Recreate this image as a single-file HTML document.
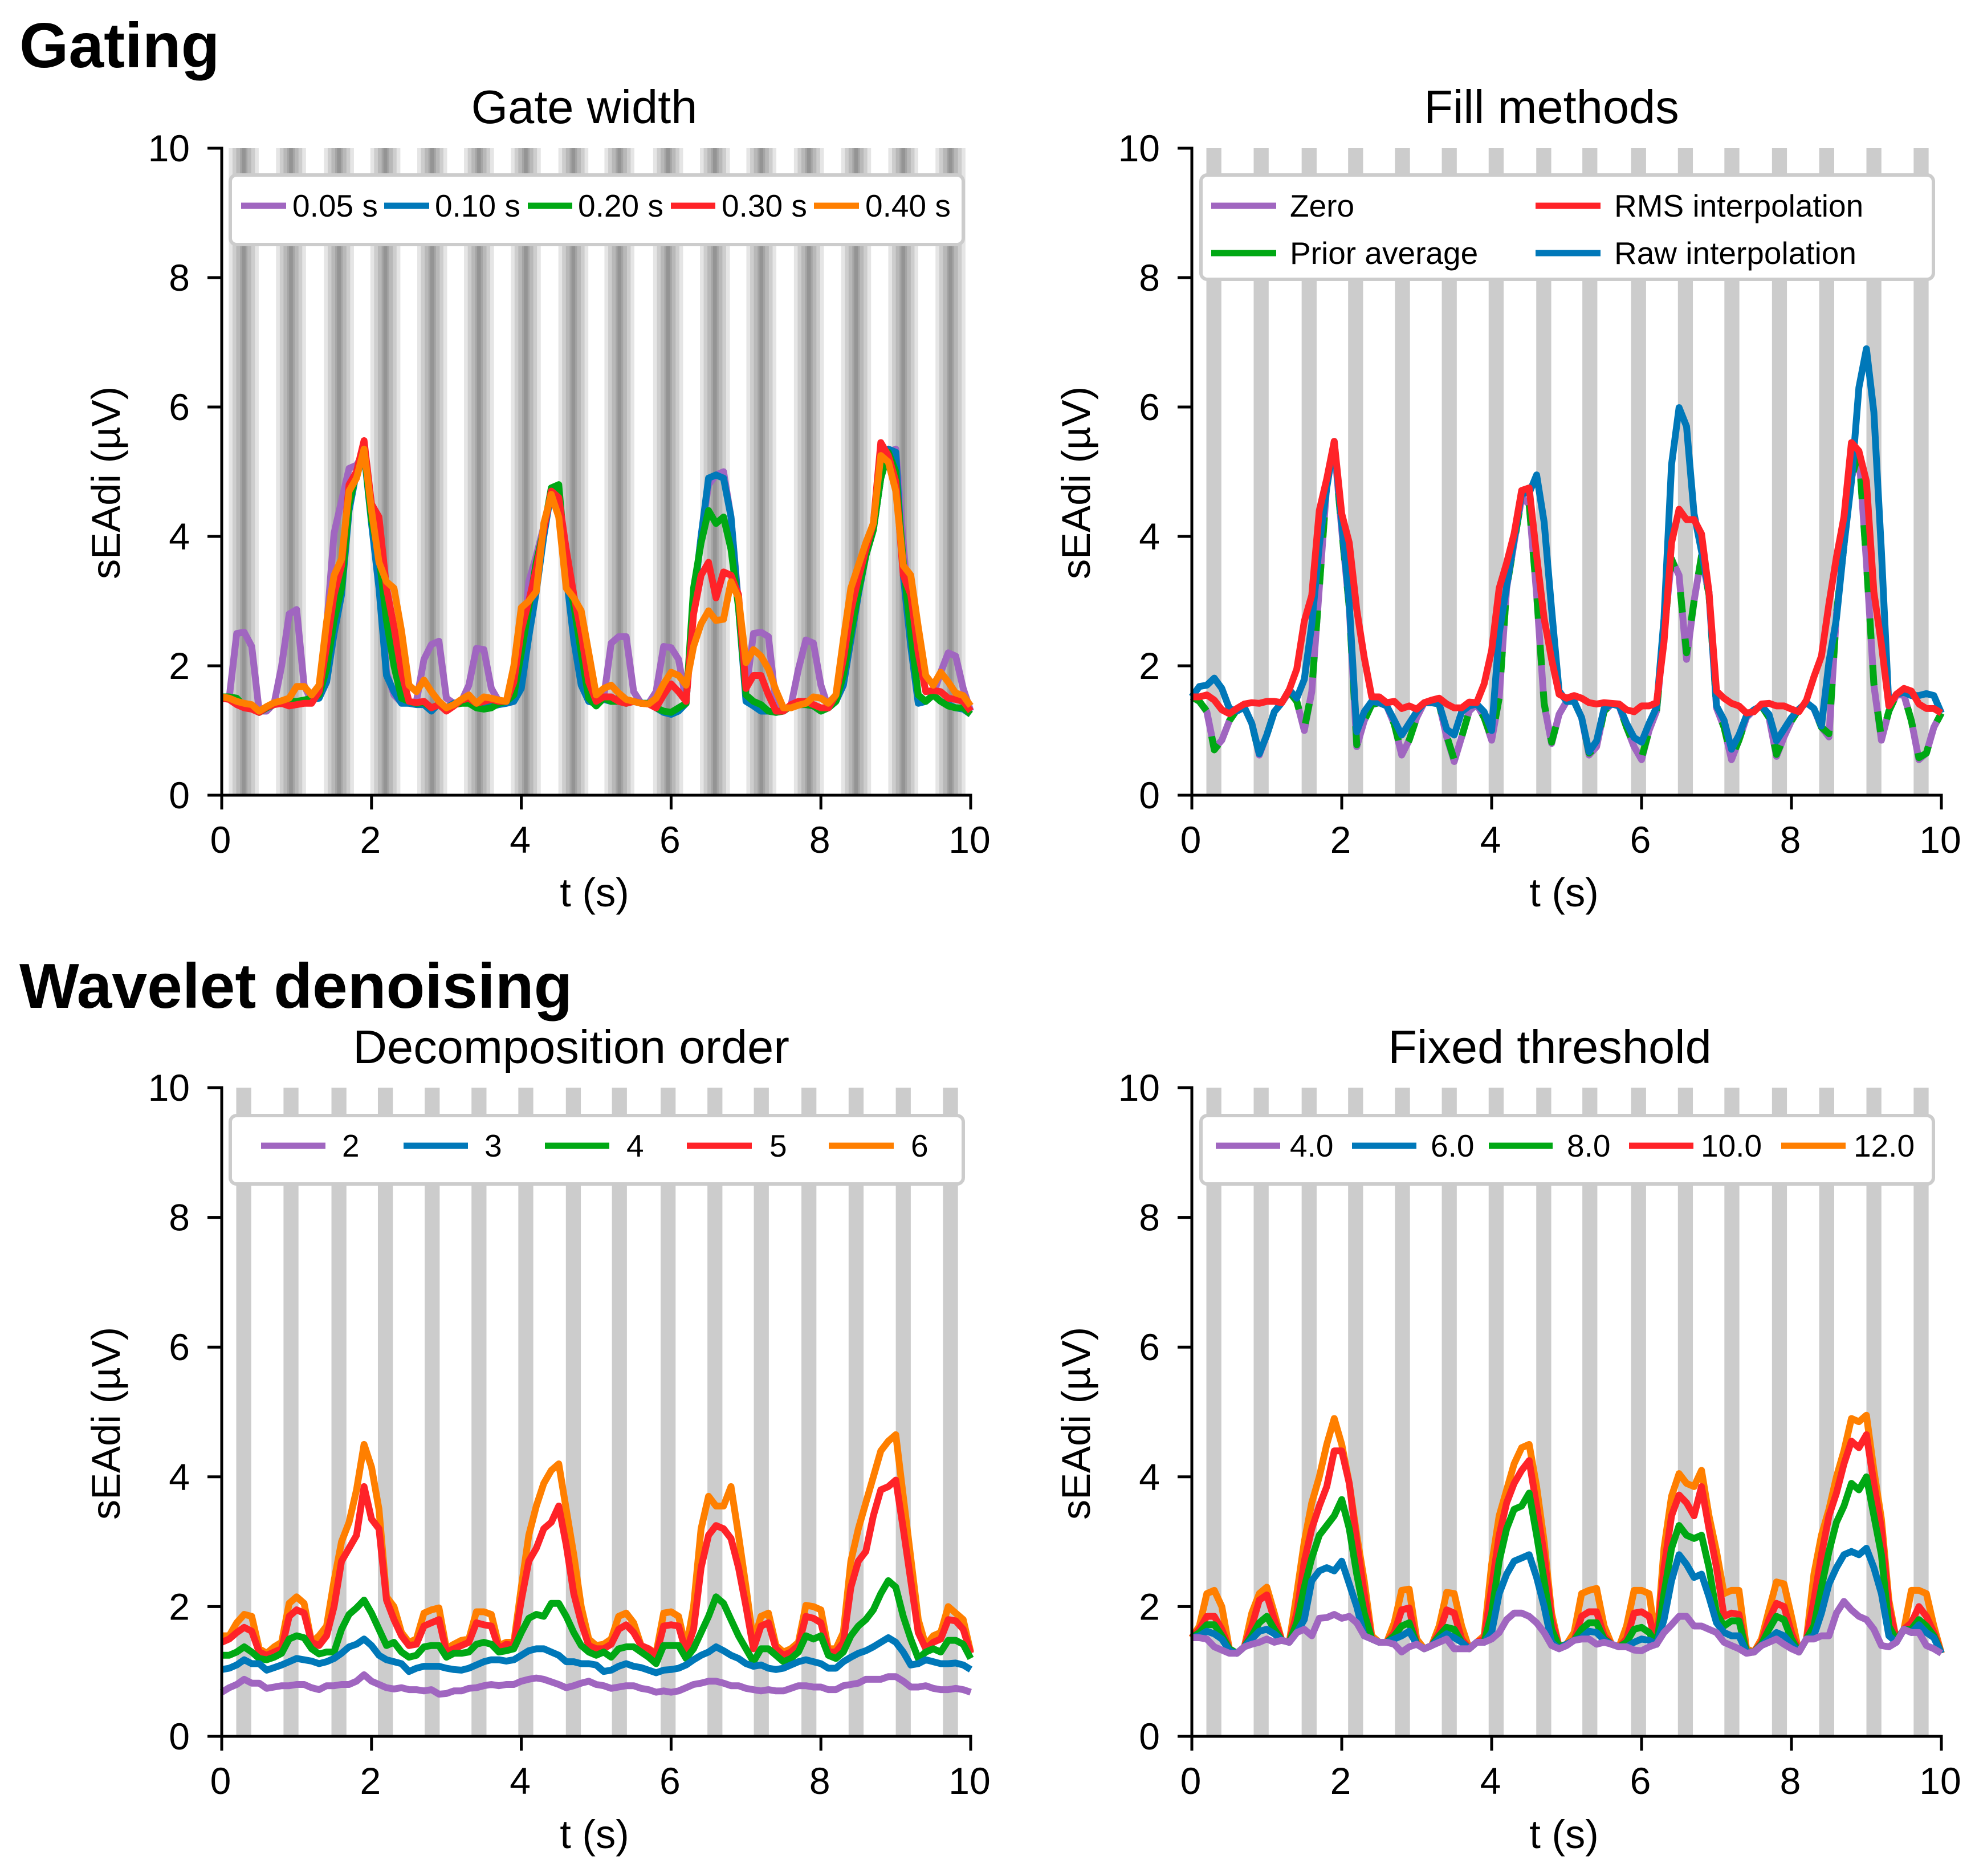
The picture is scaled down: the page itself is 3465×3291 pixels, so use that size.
<!DOCTYPE html>
<html lang="en">
<head>
<meta charset="utf-8">
<title>Gating and wavelet denoising sEAdi comparison</title>
<style>
html,body{margin:0;padding:0;background:#fff}
svg{display:block;font-family:"Liberation Sans",sans-serif;fill:#000}
.heading{font-size:111px;font-weight:bold}
.title{font-size:83px;text-anchor:middle}
.axis-label{font-size:70.5px;text-anchor:middle}
.legend-text{font-size:55px}
.tick-label{font-size:66px}
.legend-box{fill:#fff;stroke:#ccc;stroke-width:6}
.legend-line{stroke-width:11}
</style>
</head>
<body>
<svg id="figure" xmlns="http://www.w3.org/2000/svg" width="3465" height="3291" viewBox="0 0 3465 3291">
<rect x="0" y="0" width="3465" height="3291" fill="#fff"/>
<text class="heading" x="34" y="118">Gating</text>
<text class="heading" x="34" y="1768">Wavelet denoising</text>

<g>
  <g id="plot-a"></g>
  <g>
    <rect class="legend-box" x="404" y="307" width="1286" height="122" rx="11"/>
    <line class="legend-line" x1="423" x2="502" y1="361" y2="361" stroke="#a066c0"/>
    <text class="legend-text" x="513" y="380">0.05 s</text>
    <line class="legend-line" x1="674" x2="753" y1="361" y2="361" stroke="#0078b9"/>
    <text class="legend-text" x="763" y="380">0.10 s</text>
    <line class="legend-line" x1="926" x2="1004" y1="361" y2="361" stroke="#00a814"/>
    <text class="legend-text" x="1014" y="380">0.20 s</text>
    <line class="legend-line" x1="1177" x2="1255" y1="361" y2="361" stroke="#ff2328"/>
    <text class="legend-text" x="1266" y="380">0.30 s</text>
    <line class="legend-line" x1="1428" x2="1507" y1="361" y2="361" stroke="#ff7f00"/>
    <text class="legend-text" x="1518" y="380">0.40 s</text>
  </g>
  <text class="title" x="1025" y="216">Gate width</text>
  <text class="axis-label" transform="translate(210,847) rotate(-90)">sEAdi (µV)</text>
  <text class="axis-label" x="1043" y="1590">t (s)</text>
  <g id="axes-a"></g>
</g>

<g>
  <g id="plot-b"></g>
  <g>
    <rect class="legend-box" x="2107" y="307" width="1285" height="183" rx="11"/>
    <line class="legend-line" x1="2125" x2="2239" y1="361" y2="361" stroke="#a066c0"/>
    <text class="legend-text" x="2263" y="380">Zero</text>
    <line class="legend-line" x1="2125" x2="2239" y1="444" y2="444" stroke="#00a814"/>
    <text class="legend-text" x="2263" y="463">Prior average</text>
    <line class="legend-line" x1="2694" x2="2808" y1="361" y2="361" stroke="#ff2328"/>
    <text class="legend-text" x="2832" y="380">RMS interpolation</text>
    <line class="legend-line" x1="2694" x2="2808" y1="444" y2="444" stroke="#0078b9"/>
    <text class="legend-text" x="2832" y="463">Raw interpolation</text>
  </g>
  <text class="title" x="2722" y="216">Fill methods</text>
  <text class="axis-label" transform="translate(1912,847) rotate(-90)">sEAdi (µV)</text>
  <text class="axis-label" x="2744" y="1590">t (s)</text>
  <g id="axes-b"></g>
</g>

<g>
  <g id="plot-c"></g>
  <g>
    <rect class="legend-box" x="404" y="1957" width="1286" height="120" rx="11"/>
    <line class="legend-line" x1="458" x2="571" y1="2010" y2="2010" stroke="#a066c0"/>
    <text class="legend-text" x="600" y="2029">2</text>
    <line class="legend-line" x1="708" x2="821" y1="2010" y2="2010" stroke="#0078b9"/>
    <text class="legend-text" x="850" y="2029">3</text>
    <line class="legend-line" x1="956" x2="1069" y1="2010" y2="2010" stroke="#00a814"/>
    <text class="legend-text" x="1099" y="2029">4</text>
    <line class="legend-line" x1="1205" x2="1319" y1="2010" y2="2010" stroke="#ff2328"/>
    <text class="legend-text" x="1350" y="2029">5</text>
    <line class="legend-line" x1="1454" x2="1568" y1="2010" y2="2010" stroke="#ff7f00"/>
    <text class="legend-text" x="1598" y="2029">6</text>
  </g>
  <text class="title" x="1002" y="1865">Decomposition order</text>
  <text class="axis-label" transform="translate(210,2497) rotate(-90)">sEAdi (µV)</text>
  <text class="axis-label" x="1043" y="3242">t (s)</text>
  <g id="axes-c"></g>
</g>

<g>
  <g id="plot-d"></g>
  <g>
    <rect class="legend-box" x="2107" y="1957" width="1285" height="120" rx="11"/>
    <line class="legend-line" x1="2133" x2="2246" y1="2010" y2="2010" stroke="#a066c0"/>
    <text class="legend-text" x="2263" y="2029">4.0</text>
    <line class="legend-line" x1="2372" x2="2485" y1="2010" y2="2010" stroke="#0078b9"/>
    <text class="legend-text" x="2510" y="2029">6.0</text>
    <line class="legend-line" x1="2612" x2="2724" y1="2010" y2="2010" stroke="#00a814"/>
    <text class="legend-text" x="2749" y="2029">8.0</text>
    <line class="legend-line" x1="2858" x2="2971" y1="2010" y2="2010" stroke="#ff2328"/>
    <text class="legend-text" x="2984" y="2029">10.0</text>
    <line class="legend-line" x1="3125" x2="3238" y1="2010" y2="2010" stroke="#ff7f00"/>
    <text class="legend-text" x="3252" y="2029">12.0</text>
  </g>
  <text class="title" x="2719" y="1865">Fixed threshold</text>
  <text class="axis-label" transform="translate(1912,2497) rotate(-90)">sEAdi (µV)</text>
  <text class="axis-label" x="2744" y="3242">t (s)</text>
  <g id="axes-d"></g>
</g>
</svg>

<script>
// ---- shared axis data ----
const times = [
0,.1,.2,.3,.4,.5,.6,.7,.8,.9,
1,1.1,1.2,1.3,1.4,1.5,1.6,1.7,1.8,1.9,
2,2.1,2.2,2.3,2.4,2.5,2.6,2.7,2.8,2.9,
3,3.1,3.2,3.3,3.4,3.5,3.6,3.7,3.8,3.9,
4,4.1,4.2,4.3,4.4,4.5,4.6,4.7,4.8,4.9,
5,5.1,5.2,5.3,5.4,5.5,5.6,5.7,5.8,5.9,
6,6.1,6.2,6.3,6.4,6.5,6.6,6.7,6.8,6.9,
7,7.1,7.2,7.3,7.4,7.5,7.6,7.7,7.8,7.9,
8,8.1,8.2,8.3,8.4,8.5,8.6,8.7,8.8,8.9,
9,9.1,9.2,9.3,9.4,9.5,9.6,9.7,9.8,9.9,
10];
const xTicks = [0,2,4,6,8,10];
const yTicks = [0,2,4,6,8,10];
const xTickLabels = ["0","2","4","6","8","10"];
const yTickLabels = ["0","2","4","6","8","10"];
const gateCenters = [.294,.925,1.565,2.185,2.81,3.435,4.06,4.695,5.31,5.96,6.585,7.205,7.84,8.47,9.1,9.73];
const gateWidthsLayered = [.4,.3,.2,.1,.05];
const gateWidthsSingle = [.2];

// ---- Gate width series ----
const gate005 = [
1.52,1.5,2.5,2.52,2.3,1.3,1.3,1.42,2.0,2.8,
2.87,1.7,1.45,1.55,2.6,4.05,4.55,5.05,5.1,5.3,
4.3,3.3,1.9,1.55,1.43,1.42,1.45,2.1,2.33,2.38,
1.5,1.42,1.45,1.7,2.27,2.25,1.65,1.45,1.42,1.45,
1.9,3.3,3.7,4.15,4.7,4.65,3.6,2.6,1.75,1.45,
1.42,1.5,2.35,2.45,2.45,1.6,1.42,1.42,1.6,2.3,
2.28,2.1,1.45,3.0,4.0,4.8,4.95,5.0,4.3,2.95,
1.6,2.5,2.52,2.45,1.4,1.3,1.38,1.95,2.4,2.35,
1.7,1.35,1.45,1.7,2.4,3.1,3.7,4.1,4.9,5.3,
5.35,3.9,2.5,1.45,1.45,1.55,1.9,2.2,2.15,1.65,
1.3];
const gate010 = [
1.52,1.5,1.45,1.38,1.35,1.28,1.35,1.42,1.45,1.45,
1.42,1.47,1.48,1.5,1.75,2.5,3.1,4.4,5.0,5.3,
4.2,3.2,1.85,1.6,1.42,1.42,1.4,1.4,1.3,1.42,
1.35,1.42,1.45,1.45,1.38,1.38,1.37,1.4,1.42,1.45,
1.65,2.45,3.15,4.0,4.7,4.7,3.4,2.4,1.7,1.45,
1.42,1.48,1.45,1.5,1.45,1.45,1.42,1.42,1.35,1.28,
1.25,1.3,1.42,3.0,4.0,4.9,4.95,4.9,4.3,2.9,
1.45,1.38,1.3,1.3,1.28,1.3,1.38,1.4,1.4,1.38,
1.3,1.35,1.45,1.7,2.4,3.1,3.7,4.1,4.9,5.35,
5.3,3.4,2.3,1.42,1.45,1.55,1.45,1.4,1.35,1.33,
1.25];
const gate020 = [
1.52,1.52,1.5,1.38,1.35,1.28,1.35,1.4,1.43,1.45,
1.45,1.47,1.5,1.55,1.95,2.7,3.2,4.5,5.0,5.35,
4.25,3.7,2.7,2.0,1.5,1.45,1.42,1.43,1.35,1.4,
1.35,1.4,1.42,1.42,1.35,1.33,1.35,1.42,1.45,1.55,
2.2,2.9,3.6,4.1,4.75,4.8,3.5,2.95,2.2,1.5,
1.38,1.5,1.45,1.45,1.42,1.45,1.42,1.42,1.35,1.3,
1.28,1.35,1.42,3.2,3.9,4.4,4.2,4.3,3.8,2.9,
1.55,1.45,1.4,1.3,1.28,1.3,1.38,1.4,1.4,1.38,
1.3,1.35,1.45,1.85,2.5,3.15,3.7,4.1,4.9,5.3,
5.0,3.6,2.5,1.55,1.45,1.55,1.45,1.38,1.35,1.35,
1.25];
const gate030 = [
1.5,1.48,1.4,1.35,1.33,1.28,1.36,1.4,1.42,1.38,
1.4,1.42,1.42,1.6,2.3,3.1,3.55,4.8,5.0,5.48,
4.5,4.3,3.2,2.6,1.9,1.45,1.43,1.45,1.35,1.4,
1.3,1.38,1.47,1.5,1.42,1.45,1.48,1.45,1.45,1.75,
2.55,3.0,3.5,4.1,4.7,4.6,3.8,3.1,2.5,1.75,
1.45,1.52,1.52,1.45,1.42,1.45,1.42,1.41,1.35,1.55,
1.72,1.6,1.45,2.8,3.4,3.6,3.05,3.45,3.4,3.1,
1.65,1.85,1.85,1.55,1.3,1.3,1.4,1.45,1.45,1.4,
1.35,1.35,1.55,2.1,2.85,3.35,3.8,4.2,5.45,5.25,
4.85,3.4,3.1,2.2,1.6,1.62,1.6,1.5,1.48,1.45,
1.3];
const gate040 = [
1.52,1.5,1.45,1.42,1.4,1.3,1.37,1.43,1.46,1.5,
1.68,1.68,1.55,1.7,2.68,3.4,3.65,4.7,4.9,5.35,
4.4,3.6,3.3,3.2,2.54,1.7,1.6,1.78,1.6,1.45,
1.35,1.4,1.48,1.55,1.42,1.52,1.5,1.47,1.45,2.0,
2.9,3.0,3.15,4.2,4.65,4.3,3.2,3.05,2.85,2.2,
1.55,1.65,1.7,1.58,1.48,1.45,1.42,1.41,1.5,1.72,
1.9,1.85,1.7,2.3,2.65,2.85,2.7,2.72,3.3,3.05,
2.05,2.25,2.15,1.95,1.62,1.35,1.35,1.39,1.42,1.52,
1.5,1.42,1.55,2.4,3.2,3.55,3.9,4.2,5.25,5.15,
4.7,3.55,3.4,2.6,1.85,1.7,1.9,1.75,1.58,1.54,
1.38];

// ---- Fill methods series ----
const fillZero = [
1.52,1.45,1.29,.72,.85,1.15,1.32,1.36,1.11,.62,
.93,1.29,1.43,1.6,1.45,1.0,1.6,3.2,4.8,5.4,
4.1,2.9,.75,1.15,1.4,1.43,1.38,1.1,.62,.85,
1.2,1.43,1.43,1.41,.9,.52,.9,1.3,1.41,1.2,
.85,1.5,3.2,3.9,4.6,4.5,3.1,1.4,.8,1.25,
1.45,1.45,1.2,.62,.75,1.3,1.41,1.38,1.05,.75,
.55,1.0,1.3,2.5,3.65,3.4,2.1,3.0,3.7,3.1,
1.35,1.05,.55,.85,1.2,1.32,1.38,1.2,.6,.9,
1.15,1.33,1.43,1.34,1.05,.9,2.8,3.86,4.9,5.3,
3.6,1.7,.85,1.3,1.55,1.55,1.15,.55,.65,1.05,
1.27];
const fillPrior = [
1.52,1.45,1.3,.7,.85,1.15,1.32,1.36,1.1,.64,
.93,1.29,1.43,1.6,1.45,1.02,1.62,3.2,4.8,5.4,
4.1,2.9,.78,1.15,1.4,1.43,1.38,1.1,.65,.85,
1.2,1.43,1.43,1.41,.92,.55,.9,1.3,1.41,1.2,
.88,1.5,3.2,3.9,4.6,4.5,3.12,1.42,.82,1.25,
1.45,1.45,1.2,.65,.75,1.3,1.41,1.38,1.05,.78,
.58,1.0,1.3,2.5,3.65,3.35,2.2,3.0,3.7,3.1,
1.35,1.05,.58,.85,1.2,1.32,1.38,1.2,.63,.9,
1.15,1.33,1.43,1.34,1.05,.95,2.8,3.86,4.9,5.3,
3.6,1.72,.88,1.3,1.55,1.55,1.15,.58,.65,1.05,
1.27];
const fillRaw = [
1.52,1.68,1.7,1.81,1.65,1.34,1.3,1.36,1.11,.64,
.93,1.29,1.43,1.63,1.5,1.79,2.64,3.86,4.75,5.47,
4.2,2.96,.98,1.29,1.45,1.43,1.38,1.16,.93,1.11,
1.29,1.43,1.43,1.41,1.02,.93,1.29,1.38,1.41,1.29,
1.0,2.5,3.23,3.95,4.67,4.67,4.95,4.22,2.87,1.61,
1.45,1.45,1.2,.67,.84,1.34,1.41,1.38,1.11,.89,
.82,1.11,1.36,2.73,5.11,5.99,5.7,4.35,3.77,3.14,
1.38,1.16,.71,.93,1.23,1.32,1.38,1.25,.84,1.02,
1.2,1.33,1.43,1.34,1.07,2.06,2.73,3.86,4.85,6.3,
6.9,5.92,3.77,1.38,1.56,1.59,1.54,1.54,1.57,1.54,
1.27];
const fillRms = [
1.52,1.52,1.55,1.47,1.32,1.26,1.34,1.41,1.43,1.42,
1.45,1.45,1.43,1.63,1.95,2.69,3.09,4.4,4.89,5.47,
4.35,3.9,2.87,2.13,1.52,1.52,1.43,1.45,1.34,1.38,
1.33,1.43,1.47,1.5,1.41,1.35,1.35,1.44,1.43,1.72,
2.24,3.2,3.59,4.04,4.71,4.75,3.7,2.73,2.1,1.56,
1.5,1.54,1.5,1.43,1.41,1.43,1.42,1.41,1.32,1.29,
1.38,1.38,1.43,2.37,3.9,4.42,4.26,4.26,4.04,3.14,
1.61,1.5,1.42,1.38,1.27,1.29,1.41,1.42,1.38,1.38,
1.33,1.29,1.47,1.83,2.15,2.96,3.68,4.3,5.45,5.32,
4.85,3.14,2.33,1.38,1.56,1.65,1.61,1.41,1.34,1.34,
1.27];

// ---- Decomposition order series ----
const order2 = [
.68,.75,.8,.88,.82,.82,.74,.76,.78,.78,
.8,.8,.75,.72,.78,.78,.8,.8,.85,.95,
.85,.8,.75,.73,.75,.72,.72,.7,.72,.65,
.66,.7,.7,.74,.75,.78,.8,.78,.8,.8,
.85,.88,.9,.88,.84,.8,.75,.78,.82,.85,
.8,.78,.74,.76,.78,.78,.74,.72,.68,.7,
.68,.7,.75,.8,.82,.85,.85,.82,.78,.78,
.74,.72,.7,.72,.7,.7,.74,.78,.78,.76,
.76,.72,.72,.78,.8,.82,.88,.88,.88,.92,
.92,.85,.76,.76,.78,.74,.72,.72,.74,.72,
.68];
const order3 = [
1.03,1.05,1.1,1.18,1.12,1.12,1.02,1.06,1.1,1.15,
1.2,1.18,1.16,1.12,1.15,1.2,1.28,1.38,1.42,1.5,
1.4,1.25,1.18,1.15,1.12,1.0,1.05,1.08,1.08,1.08,
1.05,1.03,1.02,1.05,1.1,1.15,1.18,1.18,1.16,1.18,
1.25,1.32,1.35,1.35,1.3,1.25,1.15,1.15,1.12,1.12,
1.1,1.0,1.02,1.08,1.12,1.08,1.06,1.02,.98,1.02,
1.03,1.05,1.1,1.18,1.25,1.3,1.38,1.32,1.25,1.2,
1.12,1.08,1.1,1.05,1.03,1.05,1.1,1.15,1.18,1.15,
1.12,1.05,1.05,1.15,1.22,1.28,1.32,1.38,1.45,1.52,
1.45,1.3,1.1,1.12,1.18,1.15,1.12,1.12,1.13,1.1,
1.03];
const order4 = [
1.25,1.25,1.3,1.38,1.3,1.2,1.18,1.22,1.28,1.5,
1.55,1.52,1.35,1.27,1.3,1.3,1.65,1.88,1.98,2.1,
1.9,1.65,1.4,1.45,1.3,1.22,1.25,1.38,1.4,1.4,
1.22,1.28,1.28,1.3,1.42,1.45,1.42,1.3,1.32,1.35,
1.6,1.82,1.88,1.85,2.05,2.05,1.85,1.6,1.4,1.3,
1.25,1.3,1.22,1.35,1.38,1.38,1.3,1.22,1.12,1.4,
1.4,1.4,1.2,1.35,1.6,1.85,2.15,2.05,1.8,1.55,
1.35,1.15,1.35,1.35,1.25,1.15,1.2,1.3,1.55,1.5,
1.55,1.25,1.2,1.3,1.55,1.7,1.8,1.95,2.2,2.4,
2.3,1.85,1.5,1.2,1.3,1.35,1.3,1.48,1.48,1.42,
1.2];
const order5 = [
1.45,1.5,1.6,1.68,1.62,1.3,1.25,1.3,1.35,1.85,
1.95,1.9,1.45,1.4,1.55,2.0,2.7,2.9,3.1,3.85,
3.35,3.2,2.1,1.8,1.55,1.4,1.42,1.7,1.75,1.8,
1.3,1.35,1.4,1.45,1.75,1.72,1.7,1.35,1.42,1.4,
2.1,2.7,2.9,3.2,3.3,3.55,2.95,2.2,1.75,1.4,
1.35,1.35,1.42,1.65,1.72,1.6,1.4,1.35,1.25,1.7,
1.72,1.7,1.3,1.65,2.6,3.1,3.25,3.2,3.05,2.6,
2.0,1.35,1.7,1.75,1.35,1.25,1.3,1.4,1.85,1.82,
1.75,1.3,1.3,1.45,2.3,2.7,2.85,3.4,3.8,3.85,
3.95,3.2,2.4,1.6,1.35,1.45,1.5,1.8,1.78,1.65,
1.28];
const order6 = [
1.55,1.55,1.75,1.88,1.85,1.35,1.28,1.38,1.45,2.05,
2.15,2.05,1.45,1.55,1.7,2.4,3.0,3.3,3.8,4.5,
4.15,3.5,2.15,2.0,1.6,1.45,1.5,1.9,1.95,1.98,
1.35,1.42,1.48,1.5,1.92,1.92,1.88,1.4,1.45,1.45,
2.3,3.1,3.55,3.9,4.1,4.2,3.5,2.8,2.0,1.5,
1.4,1.42,1.5,1.85,1.9,1.75,1.4,1.35,1.28,1.9,
1.92,1.85,1.35,2.0,3.2,3.7,3.55,3.55,3.85,3.1,
2.3,1.45,1.85,1.9,1.4,1.3,1.35,1.45,2.02,2.0,
1.95,1.35,1.35,1.6,2.7,3.2,3.6,4.0,4.4,4.55,
4.65,3.7,2.75,1.8,1.4,1.55,1.6,2.0,1.9,1.8,
1.3];

// ---- Fixed threshold series ----
const thresh4 = [
1.52,1.52,1.5,1.38,1.33,1.28,1.28,1.38,1.42,1.45,
1.5,1.45,1.48,1.45,1.6,1.65,1.55,1.82,1.83,1.88,
1.82,1.85,1.75,1.55,1.5,1.45,1.45,1.42,1.3,1.38,
1.42,1.35,1.4,1.45,1.5,1.35,1.35,1.35,1.45,1.45,
1.5,1.6,1.8,1.9,1.9,1.85,1.75,1.6,1.4,1.35,
1.4,1.48,1.5,1.5,1.42,1.45,1.42,1.38,1.38,1.33,
1.32,1.38,1.42,1.6,1.72,1.85,1.85,1.7,1.7,1.65,
1.6,1.45,1.4,1.35,1.28,1.3,1.4,1.45,1.5,1.42,
1.35,1.3,1.5,1.5,1.55,1.55,1.9,2.08,1.95,1.85,
1.8,1.65,1.4,1.38,1.45,1.65,1.6,1.6,1.4,1.35,
1.28];
const thresh6 = [
1.52,1.55,1.62,1.58,1.5,1.32,1.28,1.38,1.5,1.62,
1.65,1.58,1.48,1.45,1.6,1.8,2.4,2.55,2.6,2.55,
2.7,2.35,2.0,1.55,1.5,1.45,1.45,1.5,1.55,1.62,
1.42,1.35,1.4,1.5,1.58,1.52,1.45,1.35,1.45,1.45,
1.6,2.2,2.5,2.7,2.75,2.8,2.45,2.0,1.45,1.35,
1.42,1.48,1.52,1.62,1.6,1.48,1.42,1.38,1.38,1.45,
1.5,1.48,1.42,1.8,2.4,2.8,2.65,2.45,2.5,2.15,
1.75,1.6,1.55,1.55,1.3,1.3,1.4,1.5,1.6,1.55,
1.42,1.3,1.5,1.55,1.9,2.35,2.6,2.8,2.85,2.8,
2.9,2.6,2.2,1.55,1.45,1.65,1.6,1.72,1.6,1.52,
1.28];
const thresh8 = [
1.52,1.6,1.72,1.72,1.55,1.35,1.28,1.38,1.55,1.75,
1.85,1.65,1.48,1.45,1.75,2.3,2.75,3.1,3.25,3.4,
3.65,3.2,2.5,1.9,1.5,1.45,1.45,1.55,1.7,1.75,
1.42,1.35,1.4,1.55,1.68,1.65,1.45,1.35,1.45,1.45,
1.9,2.7,3.2,3.5,3.55,3.75,3.1,2.4,1.65,1.38,
1.42,1.48,1.65,1.75,1.75,1.5,1.42,1.38,1.45,1.65,
1.68,1.6,1.42,2.2,2.9,3.25,3.1,3.05,3.1,2.6,
1.9,1.7,1.78,1.78,1.3,1.3,1.42,1.65,1.85,1.8,
1.5,1.3,1.5,1.7,2.3,2.85,3.3,3.55,3.9,3.8,
4.0,3.4,2.8,1.7,1.48,1.65,1.65,1.8,1.7,1.55,
1.28];
const thresh10 = [
1.52,1.65,1.85,1.85,1.65,1.35,1.28,1.38,1.7,2.1,
2.18,1.8,1.48,1.45,1.9,2.7,3.2,3.55,3.85,4.4,
4.4,3.9,3.0,2.2,1.5,1.45,1.45,1.6,1.95,1.98,
1.42,1.35,1.4,1.6,1.95,1.9,1.5,1.35,1.45,1.5,
2.3,3.1,3.6,3.9,4.1,4.25,3.55,2.8,1.8,1.38,
1.42,1.48,1.85,1.92,1.92,1.55,1.42,1.38,1.5,1.9,
1.92,1.85,1.42,2.6,3.4,3.72,3.6,3.4,3.85,3.2,
2.6,1.85,1.9,1.88,1.3,1.3,1.45,1.8,2.05,2.0,
1.6,1.3,1.5,2.1,2.8,3.4,3.75,4.2,4.55,4.45,
4.65,3.9,3.2,2.0,1.48,1.65,1.75,2.0,1.85,1.6,
1.28];
const thresh12 = [
1.52,1.7,2.2,2.25,2.0,1.35,1.28,1.38,1.9,2.2,
2.3,1.9,1.48,1.45,2.2,3.0,3.6,4.0,4.5,4.9,
4.5,3.9,3.1,2.4,1.55,1.45,1.45,1.75,2.25,2.27,
1.5,1.35,1.4,1.7,2.22,2.2,1.7,1.35,1.45,1.55,
2.65,3.4,3.8,4.2,4.45,4.5,3.85,3.0,1.9,1.38,
1.42,1.6,2.2,2.25,2.28,1.7,1.42,1.38,1.7,2.25,
2.25,2.2,1.42,2.9,3.7,4.05,3.9,3.85,4.1,3.4,
2.85,2.2,2.25,2.25,1.35,1.3,1.5,1.95,2.38,2.35,
1.85,1.3,1.5,2.5,3.1,3.5,4.0,4.4,4.9,4.85,
4.95,4.1,3.35,2.1,1.48,1.65,2.25,2.25,2.2,1.7,
1.28];

// ---- series colours ----
const PURPLE = '#a066c0', BLUE = '#0078b9', GREEN = '#00a814', RED = '#ff2328', ORANGE = '#ff7f00';

const NS = 'http://www.w3.org/2000/svg';

function createSvg(tag, parent, attrs) {
  const el = document.createElementNS(NS, tag);
  for (const key in attrs) el.setAttribute(key, attrs[key]);
  parent.appendChild(el);
  return el;
}

const panels = [
  { key: 'a', name: 'gate-width', left: 389, right: 1703, bottom: 1395, top: 260,
    gateWidths: gateWidthsLayered, gateFill: '#000', gateOpacity: .1,
    series: [
      { name: '0-05-s', values: gate005, color: PURPLE },
      { name: '0-10-s', values: gate010, color: BLUE },
      { name: '0-20-s', values: gate020, color: GREEN },
      { name: '0-30-s', values: gate030, color: RED },
      { name: '0-40-s', values: gate040, color: ORANGE }
    ] },
  { key: 'b', name: 'fill-methods', left: 2091, right: 3406, bottom: 1395, top: 260,
    gateWidths: gateWidthsSingle, gateFill: '#cccccc', gateOpacity: 1,
    series: [
      { name: 'zero', values: fillZero, color: PURPLE },
      { name: 'prior-average', values: fillPrior, color: GREEN, dash: '36 46' },
      { name: 'raw-interpolation', values: fillRaw, color: BLUE },
      { name: 'rms-interpolation', values: fillRms, color: RED }
    ] },
  { key: 'c', name: 'decomposition-order', left: 389, right: 1703, bottom: 3046, top: 1908,
    gateWidths: gateWidthsSingle, gateFill: '#cccccc', gateOpacity: 1,
    series: [
      { name: 'order-6', values: order6, color: ORANGE },
      { name: 'order-5', values: order5, color: RED },
      { name: 'order-4', values: order4, color: GREEN },
      { name: 'order-3', values: order3, color: BLUE },
      { name: 'order-2', values: order2, color: PURPLE }
    ] },
  { key: 'd', name: 'fixed-threshold', left: 2091, right: 3406, bottom: 3046, top: 1908,
    gateWidths: gateWidthsSingle, gateFill: '#cccccc', gateOpacity: 1,
    series: [
      { name: 'threshold-12', values: thresh12, color: ORANGE },
      { name: 'threshold-10', values: thresh10, color: RED },
      { name: 'threshold-8', values: thresh8, color: GREEN },
      { name: 'threshold-6', values: thresh6, color: BLUE },
      { name: 'threshold-4', values: thresh4, color: PURPLE }
    ] }
];

panels.forEach(function (panel) {
  const xScale = function (t) { return panel.left + (t / 10) * (panel.right - panel.left); };
  const yScale = function (v) { return panel.bottom - (v / 10) * (panel.bottom - panel.top); };
  const plot = document.getElementById('plot-' + panel.key);
  const axes = document.getElementById('axes-' + panel.key);

  gateCenters.forEach(function (center, gateIndex) {
    panel.gateWidths.forEach(function (width) {
      const rect = createSvg('rect', plot, {
        x: xScale(center - width / 2),
        y: panel.top,
        width: xScale(width) - xScale(0),
        height: panel.bottom - panel.top,
        fill: panel.gateFill,
        'fill-opacity': panel.gateOpacity
      });
      
      
    });
  });

  panel.series.forEach(function (series) {
    const points = series.values.map(function (v, i) {
      return xScale(times[i]).toFixed(1) + ',' + yScale(v).toFixed(1);
    }).join(' ');
    const line = createSvg('polyline', plot, {
      points: points,
      fill: 'none',
      stroke: series.color,
      'stroke-width': 12,
      'stroke-linejoin': 'round',
      'stroke-linecap': 'butt'
    });
    if (series.dash) line.setAttribute('stroke-dasharray', series.dash);
    
    
  });

  const ySpine = createSvg('line', axes, {
    x1: panel.left, x2: panel.left, y1: panel.top - 2.5, y2: panel.bottom + 2.5,
    stroke: '#000', 'stroke-width': 5
  });
  
  

  const xSpine = createSvg('line', axes, {
    x1: panel.left - 2.5, x2: panel.right + 2.5, y1: panel.bottom, y2: panel.bottom,
    stroke: '#000', 'stroke-width': 5
  });
  
  

  xTicks.forEach(function (tick, i) {
    const mark = createSvg('line', axes, {
      x1: xScale(tick), x2: xScale(tick), y1: panel.bottom, y2: panel.bottom + 25,
      stroke: '#000', 'stroke-width': 5
    });
    
    
    const label = createSvg('text', axes, {
      x: xScale(tick) - 2, y: panel.bottom + 101, 'text-anchor': 'middle', 'class': 'tick-label'
    });
    label.textContent = xTickLabels[i];
    
    
  });

  yTicks.forEach(function (tick, i) {
    const mark = createSvg('line', axes, {
      x1: panel.left - 25, x2: panel.left, y1: yScale(tick), y2: yScale(tick),
      stroke: '#000', 'stroke-width': 5
    });
    
    
    const label = createSvg('text', axes, {
      x: panel.left - 56, y: yScale(tick) + 23, 'text-anchor': 'end', 'class': 'tick-label'
    });
    label.textContent = yTickLabels[i];
    
    
  });
});
</script>
</body>
</html>
